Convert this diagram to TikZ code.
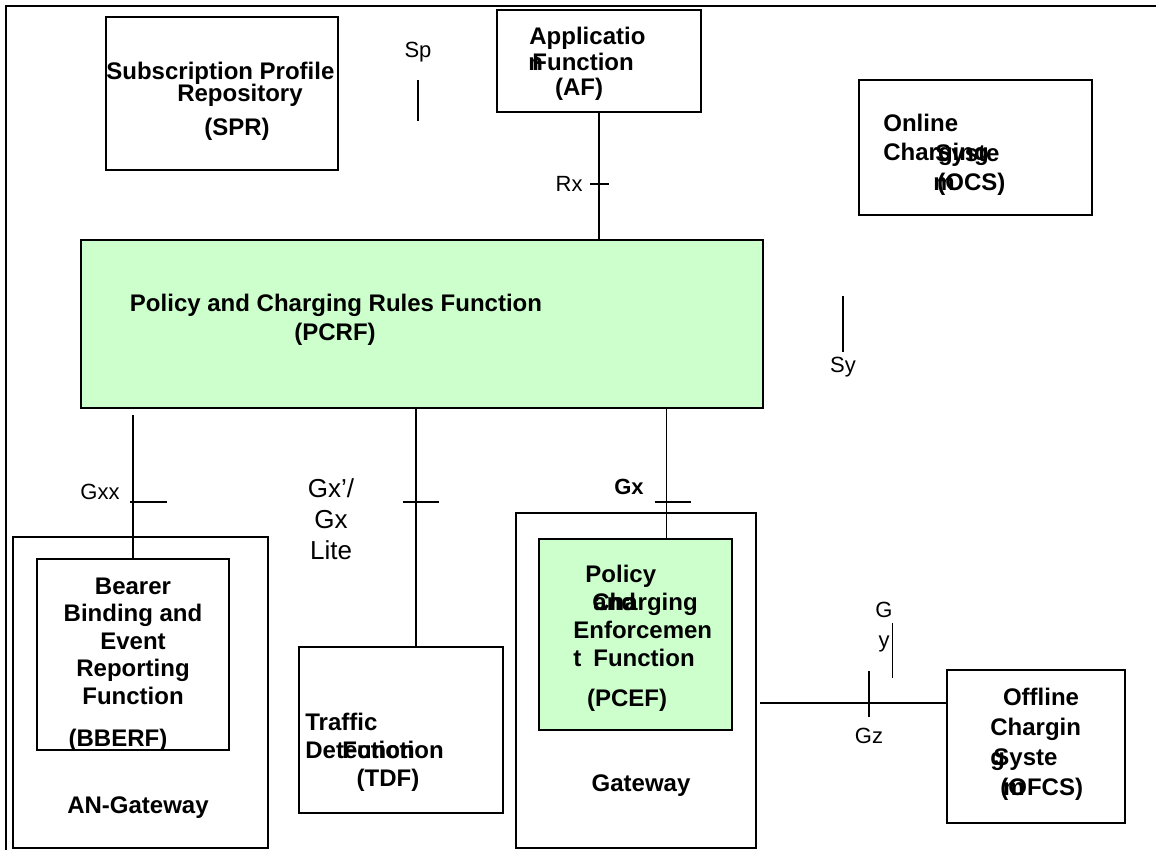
\documentclass[tikz,border=0pt]{standalone}
\usepackage{fontspec}
\setmainfont{Liberation Sans}
\usetikzlibrary{positioning}
\definecolor{pcrfgreen}{HTML}{CCFFCC}

\begin{document}
\begin{tikzpicture}[x=0.5pt, y=-0.5pt,
    box/.style={draw, line width=0.8pt, inner sep=0pt},
    greenbox/.style={box, fill=pcrfgreen},
    txt/.style={font=\bfseries\fontsize{12}{14}\selectfont, inner sep=0pt},
    lbl/.style={font=\fontsize{11}{13}\selectfont, inner sep=0pt},
    link/.style={line width=0.8pt}]
    \useasboundingbox (0,0) rectangle (1156,850);

    % Frame
    \draw[line width=1pt] (6,850) -- (6,6) -- (1156,6);

    % Boxes
    \node[box, minimum width=116pt, minimum height=76.5pt] (spr) at (222,93.5) {};
    \node[box, minimum width=102pt, minimum height=51pt] (af) at (599,61) {};
    \node[box, minimum width=116.5pt, minimum height=67.5pt] (ocs) at (975.5,147.5) {};
    \node[greenbox, line width=1pt, minimum width=341pt, minimum height=84pt] (pcrf) at (422,324) {};
    \node[box, minimum width=127.5pt, minimum height=155.5pt] (angw) at (140.5,692.5) {};
    \node[box, minimum width=96pt, minimum height=95.5pt] (bberf) at (133,654.5) {};
    \node[box, minimum width=102pt, minimum height=83pt] (tdf) at (401,730) {};
    \node[box, minimum width=120pt, minimum height=167.5pt] (gw) at (636,680.5) {};
    \node[greenbox, minimum width=96.5pt, minimum height=95.5pt] (pcef) at (635.5,634.5) {};
    \node[box, minimum width=89pt, minimum height=76.5pt] (ofcs) at (1036,746.5) {};

    % Reference points
    \coordinate (rx) at (599,184);
    \coordinate (gxx) at (133,502);
    \coordinate (gxxtop) at (133,415);
    \coordinate (gxlite) at (416,502);
    \coordinate (gx) at (666.5,502);
    \coordinate (gzstart) at (760,703);
    \coordinate (gz) at (869,703);

    % Interfaces
    \draw[link] (af) -- (af |- pcrf.north);
    \draw[link] (rx) ++(-9,0) -- ++(19,0);
    \draw[link] (gxxtop) -- (bberf.north);
    \draw[link] (gxx) ++(-3,0) -- ++(37,0);
    \draw[link] (pcrf.south -| gxlite) -- (tdf.north -| gxlite);
    \draw[link] (gxlite) ++(-13,0) -- ++(36,0);
    \draw[link] (pcrf.south -| gx) -- (pcef.north -| gx);
    \draw[link] (gx) ++(-12,0) -- ++(36,0);
    \draw[link] (gzstart) -- (ofcs.west |- gzstart);
    \draw[link] (gz) ++(0,-32) -- ++(0,46);
    \draw[link] (418,80) -- (418,121);
    \draw[link] (843,296) -- (843,352);
    \draw[link] (892.5,623) -- (892.5,678);

    % Interface labels
    \node[lbl] (sp-l) at (418,52) {Sp};
    \node[lbl, anchor=east] (rx-l) at (583,184) {Rx};
    \node[lbl] (sy-l) at (843,367) {Sy};
    \node[lbl] (gxx-l) at (100,492) {Gxx};
    \node[lbl, font=\fontsize{13}{15.5}\selectfont, align=center] (gxlite-l) at (331,519) {Gx’/\\Gx\\Lite};
    \node[txt, font=\bfseries\fontsize{11}{13}\selectfont] (gx-l) at (629,487) {Gx};
    \node[lbl] (gz-l) at (869,736) {Gz};
    \node[lbl, align=center, font=\fontsize{11}{15}\selectfont] (gy-l) at (884,627) {G\\y};

    % Box texts
    \node[txt, anchor=base west] (spr-1) at (106,80) {Subscription Profile};
    \node[txt, anchor=base] (spr-2) at (240,102) {Repository};
    \node[txt, anchor=base] (spr-3) at (237,136) {(SPR)};

    \node[txt, anchor=base west] (af-1) at (529,45) {Applicatio};
    \node[txt, anchor=base west] (af-2) at (528,71) {n\kern-5.3pt Function};
    \node[txt, anchor=base] (af-3) at (579,96) {(AF)};

    \node[txt, anchor=base west] (ocs-1) at (883,132) {Online};
    \node[txt, anchor=base west] (ocs-2) at (883,161) {Charging};
    \node[txt, anchor=base west] (ocs-3) at (935,162) {Syste};
    \node[txt, anchor=base west] (ocs-4) at (933,191) {m};
    \node[txt, anchor=base west] (ocs-5) at (937,191) {(OCS)};

    \node[txt, anchor=base] (pcrf-1) at (336,311) {Policy and Charging Rules Function};
    \node[txt, anchor=base] (pcrf-2) at (335,340) {(PCRF)};

    \node[txt, anchor=base] (bberf-1) at (133,594) {Bearer};
    \node[txt, anchor=base] (bberf-2) at (133,621) {Binding and};
    \node[txt, anchor=base] (bberf-3) at (133,649) {Event};
    \node[txt, anchor=base] (bberf-4) at (133,676) {Reporting};
    \node[txt, anchor=base] (bberf-5) at (133,704) {Function};
    \node[txt, anchor=base] (bberf-6) at (118,746) {(BBERF)};
    \node[txt, anchor=base] (angw-1) at (138,813) {AN-Gateway};

    \node[txt, anchor=base west] (tdf-1) at (305,730) {Traffic};
    \node[txt, anchor=base west] (tdf-2) at (305,758) {Detection};
    \node[txt, anchor=base west] (tdf-3) at (342,758) {Function};
    \node[txt, anchor=base] (tdf-4) at (388,786) {(TDF)};

    \node[txt, anchor=base west] (pcef-1) at (585,582) {Policy};
    \node[txt, anchor=base west] (pcef-2) at (593,610) {and};
    \node[txt, anchor=base west] (pcef-3) at (592,610) {Charging};
    \node[txt, anchor=base west] (pcef-4) at (573,638) {Enforcemen};
    \node[txt, anchor=base west] (pcef-5) at (573,666) {t};
    \node[txt, anchor=base west] (pcef-6) at (593,666) {Function};
    \node[txt, anchor=base] (pcef-7) at (627,706) {(PCEF)};
    \node[txt, anchor=base] (gw-1) at (641,791) {Gateway};

    \node[txt, anchor=base] (ofcs-1) at (1041,705) {Offline};
    \node[txt, anchor=base west] (ofcs-2) at (990,735) {Chargin};
    \node[txt, anchor=base west] (ofcs-3) at (990,765) {g};
    \node[txt, anchor=base west] (ofcs-4) at (993,765) {Syste};
    \node[txt, anchor=base west] (ofcs-5) at (1000,795) {(OFCS)};
    \node[txt, anchor=base west] (ofcs-6) at (1003,795) {m};

\end{tikzpicture}
\end{document}
